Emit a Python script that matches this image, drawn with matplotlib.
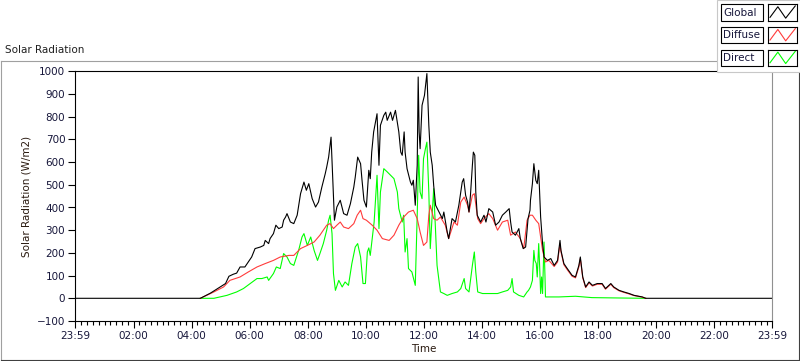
import numpy as np
import matplotlib.pyplot as plt
from matplotlib.patches import Rectangle
from matplotlib.lines import Line2D

# minutes of the day and W/m2 values
global_min = [-1, 258, 279, 299, 310, 317, 326, 333, 340, 350, 357, 364, 371, 382, 389, 392, 399,
              402, 409, 414, 420, 427, 430, 434, 437, 444, 451, 458, 465, 472, 477, 482, 489, 496,
              502, 509, 516, 519, 523, 528, 530, 533, 535, 540, 547, 554, 561, 568, 575, 578, 583,
              589, 592, 596, 601, 606, 609, 612, 616, 623, 627, 630, 637, 641, 644, 651, 655, 661,
              668, 672, 675, 679, 681, 685, 692, 695, 698, 702, 706, 708, 710, 712, 716, 721, 726,
              730, 733, 737, 740, 744, 751, 758, 761, 768, 771, 778, 785, 792, 796, 799, 802, 806,
              810, 813, 816, 820, 822, 825, 827, 830, 837, 844, 848, 854, 862, 868, 875, 882, 889,
              896, 899, 902, 909, 916, 919, 925, 930, 935, 939, 940, 944, 947, 951, 954, 957, 961,
              965, 968, 975, 982, 989, 996, 1001, 1003, 1009, 1016, 1026, 1033, 1040, 1043, 1048,
              1054, 1061, 1068, 1078, 1088, 1095, 1106, 1112, 1123, 1133, 1144, 1154, 1164, 1171,
              1178, 1439]
global_val = [0, 0, 23, 50, 65, 97, 106, 111, 138, 138, 160, 182, 219, 226, 233, 255, 241,
              263, 285, 322, 307, 314, 344, 358, 373, 336, 329, 366, 461, 512, 476, 505, 439, 402,
              424, 490, 549, 578, 622, 710, 608, 446, 344, 402, 432, 373, 366, 417, 490, 534, 622,
              593, 520, 432, 402, 564, 527, 644, 733, 813, 586, 762, 806, 820, 784, 820, 784, 828,
              733, 644, 630, 733, 644, 571, 512, 498, 520, 410, 586, 975, 733, 659, 850, 894, 990,
              762, 644, 586, 498, 410, 380, 351, 380, 292, 263, 351, 336, 410, 468, 512, 527, 454,
              424, 380, 454, 586, 644, 630, 468, 366, 336, 366, 336, 395, 380, 322, 336, 366, 380,
              395, 336, 292, 278, 307, 263, 219, 226, 351, 388, 432, 505, 593, 520, 505, 564, 358,
              241, 182, 167, 175, 145, 167, 255, 211, 153, 131, 101, 94, 145, 182, 94,
              50, 72, 57, 65, 65, 43, 65, 50, 35, 28, 21, 13, 9, 6,
              0, 0]

diffuse_min = [258, 286, 306, 319, 340, 357, 375, 392, 409, 423, 441, 451, 465, 479, 493, 505,
               519, 526, 533, 540, 547, 554, 564, 575, 582, 589, 594, 601, 613, 623, 634, 648,
               658, 668, 678, 688, 698, 706, 712, 719, 726, 730, 733, 740, 747, 754, 764, 771,
               782, 789, 796, 803, 810, 813, 820, 824, 831, 837, 844, 854, 862, 872, 882, 893,
               899, 909, 919, 926, 933, 939, 944, 951, 957, 961, 965, 971, 978, 989, 996, 1001,
               1003, 1009, 1016, 1026, 1033, 1040, 1043, 1048, 1054, 1061, 1068, 1078, 1088, 1095,
               1106, 1112, 1123, 1133, 1144, 1154, 1164, 1171, 1178]
diffuse_val = [0, 28, 50, 79, 94, 116, 138, 153, 167, 182, 189, 189, 219, 233, 248, 278,
               322, 329, 307, 322, 336, 314, 307, 329, 366, 388, 351, 344, 322, 300, 263, 255,
               278, 322, 358, 380, 388, 351, 292, 233, 248, 366, 410, 351, 344, 358, 322, 263,
               336, 322, 424, 446, 410, 380, 454, 461, 351, 329, 351, 373, 351, 300, 336, 344,
               278, 292, 263, 219, 344, 366, 366, 344, 329, 270, 211, 160, 167, 140, 160, 240,
               205, 148, 126, 97, 90, 138, 175, 90, 47, 68, 54, 62, 62, 40,
               62, 47, 33, 26, 19, 12, 8, 5, 0]

direct_min = [258, 286, 313, 333, 347, 361, 375, 385, 396, 399, 409, 415, 423, 430, 437, 444,
              451, 461, 468, 472, 479, 486, 493, 500, 505, 512, 519, 523, 526, 530, 533, 537,
              544, 551, 557, 564, 571, 578, 583, 589, 594, 599, 603, 606, 609, 617, 623, 627,
              630, 637, 644, 651, 658, 665, 668, 675, 678, 681, 685, 688, 695, 702, 706, 709,
              712, 716, 719, 723, 726, 730, 733, 740, 744, 747, 754, 761, 768, 778, 789, 796,
              803, 806, 813, 820, 824, 827, 831, 841, 851, 862, 872, 882, 893, 899, 902, 905,
              916, 926, 933, 936, 940, 944, 947, 949, 952, 954, 957, 959, 961, 963, 965, 968,
              970, 971, 985, 999, 1033, 1067, 1137, 1178]
direct_val = [0, 0, 13, 28, 43, 65, 87, 87, 94, 79, 109, 138, 131, 197, 182, 153,
              145, 211, 270, 285, 233, 270, 211, 167, 197, 241, 300, 344, 366, 285, 109, 35,
              79, 50, 72, 57, 153, 226, 241, 182, 65, 65, 204, 222, 189, 336, 542, 307,
              468, 571, 557, 542, 527, 468, 395, 336, 366, 204, 263, 131, 116, 57, 366, 630,
              468, 439, 615, 659, 688, 468, 219, 483, 292, 145, 28, 21, 13, 21, 28, 43,
              87, 43, 28, 145, 204, 116, 28, 21, 21, 21, 21, 28, 35, 50, 87, 28,
              13, 6, 28, 35, 50, 79, 211, 167, 153, 94, 241, 138, 21, 94, 21, 248,
              94, 6, 6, 6, 9, 3, 1, 0]

tick_names = ['23:59', '02:00', '04:00', '06:00', '08:00', '10:00', '12:00',
              '14:00', '16:00', '18:00', '20:00', '22:00', '23:59']


def to_h(mins):
    # hours since 23:59 of the previous day
    return (np.asarray(mins, dtype=float) + 1) / 60.0


W, H = 800, 361
txt = '#16163a'
plt.rcParams['font.family'] = ['DejaVu Sans']
plt.rcParams['font.size'] = 7.5

fig = plt.figure(figsize=(W / 100, H / 100), dpi=100)


def fx(x):
    return x / W


def fy(y):
    return 1 - y / H


# outer frame of the chart
fig.add_artist(Line2D([fx(1), fx(1)], [fy(61), fy(360)], color='#a0a0a0', lw=0.8))
fig.add_artist(Line2D([fx(1), fx(799)], [fy(61), fy(61)], color='#a0a0a0', lw=0.8))
fig.add_artist(Line2D([fx(1), fx(799)], [fy(360), fy(360)], color='#404040', lw=0.8))
fig.add_artist(Line2D([fx(799), fx(799)], [fy(61), fy(360)], color='#404040', lw=0.8))
fig.text(fx(5), fy(50), 'Solar Radiation', ha='left', va='center', color='#202020')

ax = fig.add_axes([fx(75), fy(321), fx(772) - fx(75), fy(71.3) - fy(321)])
ax.plot(to_h(direct_min), direct_val, color='#00ff00', lw=0.8)
ax.plot(to_h(diffuse_min), diffuse_val, color='#ff3b3b', lw=0.8)
ax.plot(to_h(global_min), global_val, color='black', lw=0.8)

ax.set_xlim(0, 24)
ax.set_ylim(-100, 1000)
xt = [0] + [(120 * k + 1) / 60 for k in range(1, 12)] + [24]
ax.set_xticks(xt)
ax.set_xticklabels(tick_names)
ax.set_xticks([(12 * k + 1) / 60 for k in range(1, 120)], minor=True)
ax.set_yticks(np.arange(-100, 1001, 100))
ax.tick_params(which='major', direction='out', length=5, width=0.8, colors='black',
               labelcolor=txt, pad=2)
ax.tick_params(which='minor', direction='out', length=3, width=0.8, colors='black')
ax.tick_params(axis='y', which='minor', left=False)
for s in ['left', 'bottom', 'top']:
    ax.spines[s].set_color('black')
    ax.spines[s].set_linewidth(0.8)
ax.spines['right'].set_color('#909090')
ax.spines['right'].set_linewidth(0.8)
ax.set_ylabel('Solar Radiation (W/m2)', color='#2a1a10', labelpad=4)
ax.set_xlabel('Time', color='#2a1a10', labelpad=2)

# legend panel in the upper right corner
panel = Rectangle((fx(717), fy(72)), fx(800) - fx(717), fy(0) - fy(72),
                  transform=fig.transFigure, facecolor='white', edgecolor='#c8c8c8', lw=0.8, zorder=2)
fig.add_artist(panel)
names = ['Global', 'Diffuse', 'Direct']
colors = ['black', '#ff3b3b', '#00ff00']
tops = [4.3, 27, 49.7]
for name, c, t in zip(names, colors, tops):
    fig.add_artist(Rectangle((fx(721), fy(t + 16.3)), fx(763.3) - fx(721), fy(t) - fy(t + 16.3),
                             transform=fig.transFigure, facecolor='white', edgecolor='black',
                             lw=0.8, zorder=3))
    fig.text(fx(723.5), fy(t + 8.3), name, ha='left', va='center', color=txt, zorder=4)
    lax = fig.add_axes([fx(767.7), fy(t + 16.3), fx(796.7) - fx(767.7), fy(t) - fy(t + 16.3)])
    lax.set_zorder(5)
    lax.plot([0.08, 0.35, 0.62, 0.95], [0.2, 0.85, 0.15, 0.9], color=c, lw=0.8)
    lax.set_xlim(0, 1)
    lax.set_ylim(0, 1)
    lax.set_xticks([])
    lax.set_yticks([])
    for s in lax.spines.values():
        s.set_color('black')
        s.set_linewidth(0.8)

fig.savefig('out.png', dpi=100)
